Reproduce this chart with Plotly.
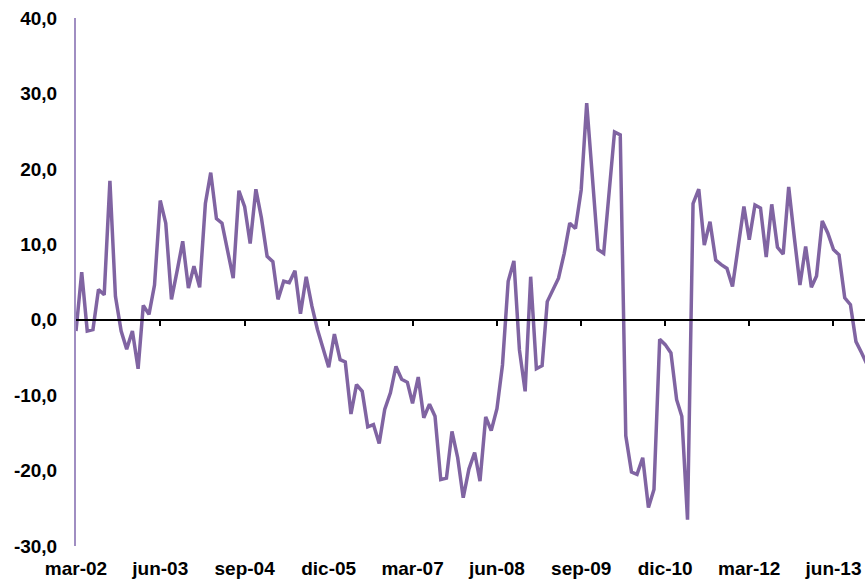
import pandas as pd
import plotly.graph_objs as go

# monthly values, mar-02 onwards
values = [
    -1.5, 6.3, -1.5, -1.3, 4.0, 3.3, 18.4, 3.1, -1.5, -3.9,
    -1.5, -6.5, 1.9, 0.7, 4.6, 15.8, 12.8, 2.7, 6.5, 10.4,
    4.2, 7.1, 4.3, 15.4, 19.5, 13.4, 12.8, 9.3, 5.5, 17.1,
    15.0, 10.1, 17.3, 13.5, 8.4, 7.7, 2.7, 5.1, 4.9, 6.5,
    0.8, 5.7, 1.8, -1.3, -4.0, -6.3, -1.9, -5.3, -5.6, -12.5,
    -8.6, -9.5, -14.2, -13.9, -16.4, -11.9, -9.7, -6.2, -7.9, -8.3,
    -11.1, -7.6, -13.0, -11.2, -12.8, -21.2, -21.0, -14.8, -18.3, -23.6,
    -19.8, -17.6, -21.4, -12.9, -14.7, -11.8, -6.0, 5.1, 7.8, -4.0,
    -9.5, 5.7, -6.5, -6.1, 2.4, 4.0, 5.5, 8.8, 12.8, 12.1,
    17.2, 28.7, 18.5, 9.3, 8.8, 16.8, 24.9, 24.5, -15.4, -20.2,
    -20.5, -18.3, -24.9, -22.5, -2.6, -3.3, -4.4, -10.6, -12.8, -26.5,
    15.4, 17.3, 9.9, 13.0, 7.9, 7.3, 6.8, 4.4, 9.8, 15.0,
    10.6, 15.2, 14.8, 8.3, 15.3, 9.6, 8.7, 17.6, 10.8, 4.6,
    9.7, 4.3, 5.8, 13.1, 11.5, 9.3, 8.6, 2.9, 2.0, -2.9,
    -4.4, -6.0,
]
dates = pd.date_range("2002-03-01", periods=len(values), freq="MS")

tick_labels = ["mar-02", "jun-03", "sep-04", "dic-05", "mar-07",
               "jun-08", "sep-09", "dic-10", "mar-12", "jun-13"]
tick_dates = list(dates[::15][:len(tick_labels)])

y_ticks = [-30, -20, -10, 0, 10, 20, 30, 40]
y_labels = ["-30,0", "-20,0", "-10,0", "0,0", "10,0", "20,0", "30,0", "40,0"]

x_range = [dates[0], pd.Timestamp("2013-11-19")]
font = dict(family="Liberation Sans, Arial", size=19, color="black", weight="bold")

trace = go.Scatter(x=dates, y=values, mode="lines",
                   line=dict(color="#8064A2", width=3.5), showlegend=False)
# dummy trace so the zero-line axis is drawn
trace_zero = go.Scatter(x=[dates[0]], y=[0], xaxis="x2", mode="lines",
                        hoverinfo="skip", showlegend=False)

layout = go.Layout(
    width=865, height=584,
    margin=dict(l=76, r=0, t=18, b=38, autoexpand=False),
    paper_bgcolor="white", plot_bgcolor="white",
    xaxis=dict(range=x_range, tickvals=tick_dates, ticktext=tick_labels,
               showgrid=False, zeroline=False, showline=False, ticks="",
               tickfont=font, ticklabelstandoff=9, automargin=False),
    xaxis2=dict(range=x_range, overlaying="x", anchor="free", position=226 / 528,
                tickvals=tick_dates[1:], showticklabels=False, showgrid=False,
                showline=True, linecolor="black", linewidth=2,
                ticks="outside", ticklen=5, tickwidth=2, tickcolor="black",
                automargin=False),
    yaxis=dict(range=[-30, 40], tickvals=y_ticks, ticktext=y_labels,
               showgrid=False, zeroline=False,
               showline=True, linecolor="#A08EC2", linewidth=2,
               ticks="", tickfont=font, ticklabelstandoff=13, automargin=False),
)

fig = go.Figure([trace_zero, trace], layout)
fig.write_html("out.html", config={"displayModeBar": False},
               post_script="document.body.style.margin = '0';")
